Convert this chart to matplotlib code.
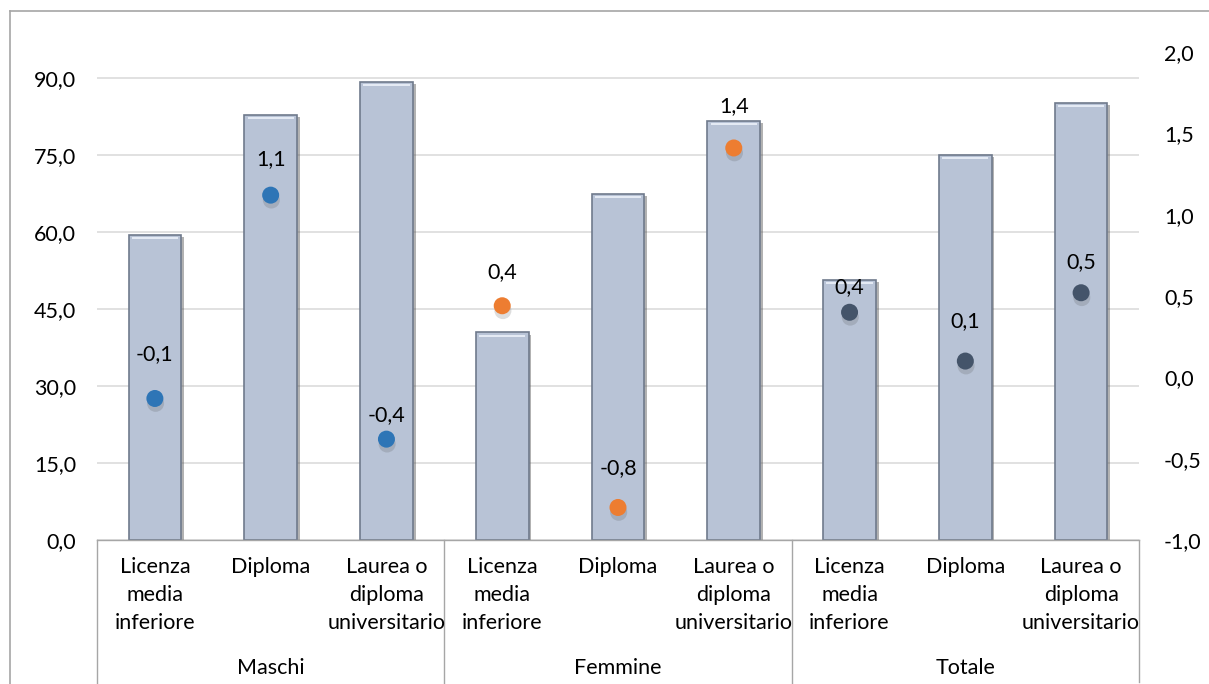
import matplotlib
matplotlib.use("Agg")
import matplotlib.pyplot as plt
import matplotlib.patheffects as pe
from matplotlib.lines import Line2D
from matplotlib.transforms import blended_transform_factory

plt.rcParams['font.family'] = ['Lato', 'DejaVu Sans']

# ---- data ----
groups = ["Maschi", "Femmine", "Totale"]
levels = ["Licenza\nmedia\ninferiore", "Diploma", "Laurea o\ndiploma\nuniversitario"]
bar_values = [59.3, 82.8, 89.2, 40.4, 67.3, 81.6, 50.7, 75.0, 85.0]      # left scale
change_values = [-0.13, 1.12, -0.38, 0.44, -0.80, 1.41, 0.40, 0.10, 0.52]  # right scale
left_ticks = [0, 15, 30, 45, 60, 75, 90]
right_ticks = [-1.0, -0.5, 0.0, 0.5, 1.0, 1.5, 2.0]

# ---- styling ----
group_colors = ["#2E75B6", "#ED7D31", "#44546A"]
label_dy = [32, 26, 17, 24, 28, 30, 18, 29, 22]   # label offset above each dot (points)
bar_face = "#B8C3D6"
bar_edge = "#6F7A8C"
grid_color = "#D9D9D9"
frame_color = "#A6A6A6"
fs = 15.5

def it_fmt(v, nd=1):
    return f"{v:.{nd}f}".replace(".", ",")

W, H = 1209, 684
fig = plt.figure(figsize=(W / 100, H / 100), dpi=100)
ax = fig.add_axes([97 / W, 1 - 540 / H, (1139 - 97) / W, (540 - 52) / H])

n = len(bar_values)
x = list(range(n))

# bars on the left scale
ax.bar(x, bar_values, width=0.4545, color=bar_face, edgecolor=bar_edge, linewidth=1.2,
       zorder=2,
       path_effects=[pe.SimplePatchShadow(offset=(2.0, -1.5), shadow_rgbFace="#555555", alpha=0.45),
                     pe.Normal()])
# light bevel along the bar tops
ax.hlines([v - 0.6 for v in bar_values], [i - 0.2 for i in x], [i + 0.2 for i in x],
          colors="#E6ECF5", linewidth=1.4, zorder=3)

ax.set_xlim(-0.5, n - 0.5)
ax.set_ylim(0, 95)
ax.set_yticks(left_ticks)
ax.set_yticklabels([it_fmt(v) for v in left_ticks], fontsize=fs)
ax.yaxis.grid(True, color=grid_color, linewidth=1.1, zorder=0)
ax.set_axisbelow(True)
ax.tick_params(axis="y", length=0, pad=15)
ax.set_xticks([])
for s in ["left", "right", "top"]:
    ax.spines[s].set_visible(False)
ax.spines["bottom"].set_color(frame_color)
ax.spines["bottom"].set_linewidth(1.0)

# dots on the right scale
ax2 = ax.twinx()
ax2.set_ylim(-1.0, 2.0)
ax2.set_yticks(right_ticks)
ax2.set_yticklabels([it_fmt(v) for v in right_ticks], fontsize=fs)
ax2.tick_params(axis="y", length=0, pad=18)
for s in ax2.spines.values():
    s.set_visible(False)

dot_colors = [group_colors[i // 3] for i in range(n)]
ax2.scatter(x, change_values, s=150, c=dot_colors, zorder=5, linewidths=0,
            path_effects=[pe.SimplePatchShadow(offset=(0.5, -3.5), shadow_rgbFace="#444444", alpha=0.18),
                          pe.Normal()])
for xi, v, dy in zip(x, change_values, label_dy):
    ax2.annotate(it_fmt(v), (xi, v), xytext=(0, dy), textcoords="offset points",
                 ha="center", va="center", fontsize=fs, color="#000000", zorder=6)

# category table below the plot
tr = blended_transform_factory(ax.transData, fig.transFigure)
y_axis_fig = 1 - 540 / H
for i, lab in enumerate(levels * len(groups)):
    ax.text(i, 1 - 557 / H, lab, transform=tr, ha="center", va="top", fontsize=fs,
            linespacing=1.5)
for g, name in enumerate(groups):
    ax.text(3 * g + 1, 1 - 668 / H, name, transform=tr, ha="center", va="center", fontsize=fs)
for b in [-0.5, 2.5, 5.5, 8.5]:
    bottom = 0.0 if b < 8 else 1 - 682 / H
    ax.add_line(Line2D([b, b], [y_axis_fig, bottom], transform=tr, color=frame_color,
                       linewidth=1.0, clip_on=False))

# chart frame
fig.add_artist(Line2D([10 / W, 10 / W], [1 - 11 / H, 0], transform=fig.transFigure,
                      color=frame_color, linewidth=1.2))
fig.add_artist(Line2D([10 / W, 1], [1 - 11 / H, 1 - 11 / H], transform=fig.transFigure,
                      color=frame_color, linewidth=1.2))

fig.savefig("out.png", dpi=100)
